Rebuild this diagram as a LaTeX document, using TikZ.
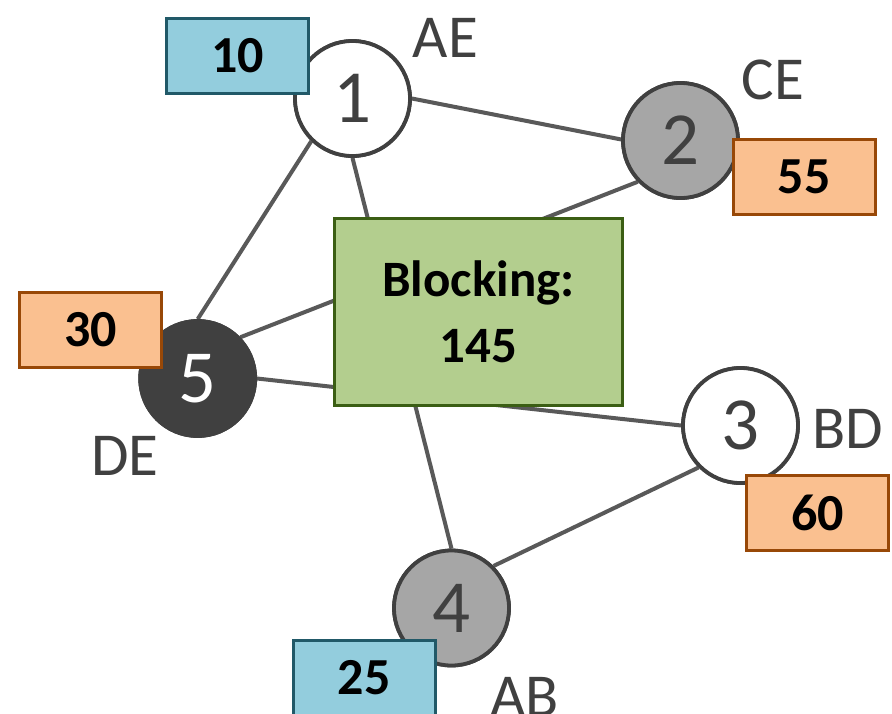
\documentclass[tikz,border=0pt]{standalone}
\usepackage{fontspec}
\setmainfont{Carlito}
\definecolor{edgegray}{HTML}{595959}
\definecolor{darkgray}{HTML}{404040}
\definecolor{midgray}{HTML}{A6A6A6}
\definecolor{bluefill}{HTML}{93CDDD}
\definecolor{blueline}{HTML}{215968}
\definecolor{orangefill}{HTML}{FAC090}
\definecolor{orangeline}{HTML}{984807}
\definecolor{greenfill}{HTML}{B3CE8E}
\definecolor{greenline}{HTML}{3B5E14}
\tikzset{
  vertex/.style={circle, draw=darkgray, line width=3.8pt, minimum size=115pt, inner sep=0pt,
    text=darkgray, font=\fontsize{75}{75}\selectfont},
  whitev/.style={vertex, fill=white},
  grayv/.style={vertex, fill=midgray},
  darkv/.style={vertex, fill=darkgray, text=white},
  costbox/.style={rectangle, line width=3pt, minimum width=142pt, minimum height=75pt, inner sep=0pt,
    text=black, font=\bfseries\fontsize{52}{52}\selectfont},
  bluebox/.style={costbox, draw=blueline, fill=bluefill},
  orangebox/.style={costbox, draw=orangeline, fill=orangefill},
  blockbox/.style={rectangle, draw=greenline, fill=greenfill, line width=3pt, minimum width=288pt,
    minimum height=187pt, align=center, font=\bfseries\fontsize{51}{66}\selectfont},
  tag/.style={text=darkgray, inner sep=0pt, font=\fontsize{61}{61}\selectfont},
  link/.style={draw=edgegray, line width=4pt}
}
\begin{document}
\begin{tikzpicture}[x=1pt,y=-1pt]
\clip (0,0) rectangle (892,713);
\fill[white] (0,0) rectangle (892,713);
% vertices (placed first as coordinates for edges)
\node[whitev] (c1) at (352.5,98.5) {1};
\node[grayv] (c2) at (680.5,140.5) {2};
\node[whitev] (c3) at (740.5,425.5) {3};
\node[grayv] (c4) at (451.5,608) {4};
\node[darkv] (c5) at (197.7,378.5) {5};
% edges
\draw[link] (c1.0) -- (c2.179);
\draw[link] (c1.226) -- (c5.90);
\draw[link] (c1.270) -- (c4.90);
\draw[link] (c5.44) -- (c2.224);
\draw[link] (c5.0) -- (c3.180);
\draw[link] (c3.225) -- (c4.45);
% blocking box
\node[blockbox] (blk) at (478.5,312) {Blocking:\\145};
% redraw vertices on top
\node[whitev] at (c1) {1};
\node[grayv] at (c2) {2};
\node[whitev] at (c3) {3};
\node[grayv] at (c4) {4};
\node[darkv] at (c5) {5};
% cost boxes
\node[bluebox] (b1) at (237.5,56) {10};
\node[orangebox] (b2) at (804,176.5) {55};
\node[orangebox] (b3) at (817.5,513) {60};
\node[bluebox] (b4) at (364,678) {25};
\node[orangebox] (b5) at (90.5,330) {30};
% tags
\node[tag] (t1) at (445.5,37.5) {AE};
\node[tag] (t2) at (773,79.5) {CE};
\node[tag] (t3) at (847.5,428.5) {BD};
\node[tag] (t4) at (524.5,696.5) {AB};
\node[tag] (t5) at (125,456) {DE};
\end{tikzpicture}
\end{document}
